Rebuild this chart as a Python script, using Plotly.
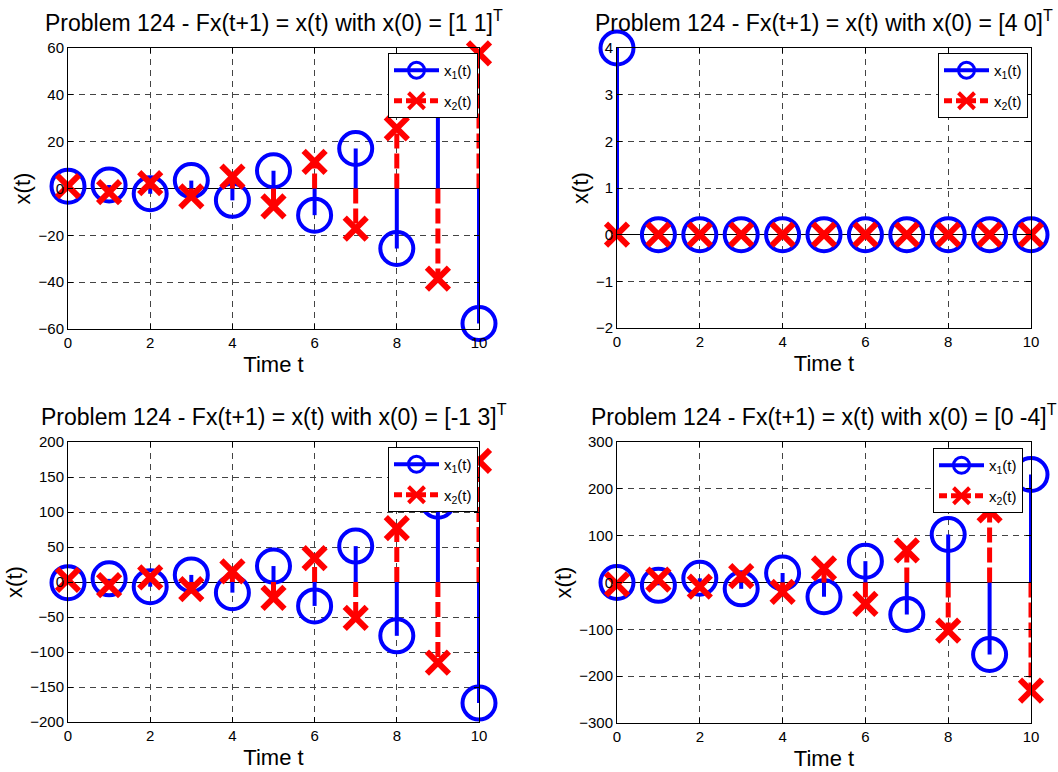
import plotly.graph_objects as go

W, H = 1058, 772

# ---------------- data ----------------
t = [0, 1, 2, 3, 4, 5, 6, 7, 8, 9, 10]

titles = ["[1 1]", "[4 0]", "[-1 3]", "[0 -4]"]

a_x1 = [1, 1.5, -2.25, 3.38, -5.06, 7.59, -11.39, 17.09, -25.63, 38.44, -57.67]
a_x2 = [1, -1.5, 2.25, -3.38, 5.06, -7.59, 11.39, -17.09, 25.63, -38.44, 57.67]

b_x1 = [4, 0, 0, 0, 0, 0, 0, 0, 0, 0, 0]
b_x2 = [0, 0, 0, 0, 0, 0, 0, 0, 0, 0, 0]

c_x1 = [-1, 4.5, -6.75, 10.13, -15.19, 22.78, -34.17, 51.26, -76.89, 115.33, -173.0]
c_x2 = [3, -4.5, 6.75, -10.13, 15.19, -22.78, 34.17, -51.26, 76.89, -115.33, 173.0]

d_x1 = [0, -6, 9, -13.5, 20.25, -30.38, 45.56, -68.34, 102.52, -153.77, 230.66]
d_x2 = [-4, 6, -9, 13.5, -20.25, 30.38, -45.56, 68.34, -102.52, 153.77, -230.66]

series = [(a_x1, a_x2), (b_x1, b_x2), (c_x1, c_x2), (d_x1, d_x2)]
y_ranges = [(-60, 60, 20), (-2, 4, 1), (-200, 200, 50), (-300, 300, 100)]

# ---------------- layout geometry (pixels) ----------------
boxes = [  # left, right, top, bottom
    (68, 479, 48, 329),
    (617, 1031, 48, 328),
    (68, 479, 442, 722),
    (617, 1031, 442, 723),
]
legend_pos = [(478, 53), (1028, 53), (478, 447), (1023, 448)]

FONT = "Liberation Sans, Arial, Helvetica, sans-serif"
BLUE = "#0000FF"
RED = "#FF0000"

fig = go.Figure()


def stem_xy(xs, ys):
    sx, sy = [], []
    for xv, yv in zip(xs, ys):
        sx += [xv, xv, None]
        sy += [0, yv, None]
    return sx, sy


layout = dict(
    width=W, height=H,
    margin=dict(l=0, r=0, t=0, b=0, autoexpand=False),
    paper_bgcolor="white", plot_bgcolor="white",
    font=dict(family=FONT, color="black", size=15),
    showlegend=True,
    annotations=[],
)

for i, ((x1, x2), (ymin, ymax, dy), box, lp) in enumerate(zip(series, y_ranges, boxes, legend_pos)):
    n = i + 1
    xa = "x" if n == 1 else f"x{n}"
    ya = "y" if n == 1 else f"y{n}"
    lg = "legend" if n == 1 else f"legend{n}"

    # stems x1
    sx, sy = stem_xy(t, x1)
    fig.add_trace(go.Scatter(x=sx, y=sy, mode="lines", xaxis=xa, yaxis=ya,
                             line=dict(color=BLUE, width=4), showlegend=False,
                             cliponaxis=False, hoverinfo="skip"))
    fig.add_trace(go.Scatter(x=t, y=x1, mode="markers", xaxis=xa, yaxis=ya,
                             marker=dict(symbol="circle-open", size=33, color=BLUE,
                                         line=dict(color=BLUE, width=4)),
                             showlegend=False, cliponaxis=False))
    # stems x2
    sx, sy = stem_xy(t, x2)
    fig.add_trace(go.Scatter(x=sx, y=sy, mode="lines", xaxis=xa, yaxis=ya,
                             line=dict(color=RED, width=5, dash="15px,5px"), showlegend=False,
                             cliponaxis=False, hoverinfo="skip"))
    fig.add_trace(go.Scatter(x=t, y=x2, mode="markers", xaxis=xa, yaxis=ya,
                             marker=dict(symbol="x-thin-open", size=22, color=RED,
                                         line=dict(color=RED, width=6)),
                             showlegend=False, cliponaxis=False))
    # legend entries
    fig.add_trace(go.Scatter(x=[None], y=[None], mode="lines+markers", xaxis=xa, yaxis=ya,
                             name="x<sub>1</sub>(t)", legend=lg, legendgroup=f"g{n}a",
                             line=dict(color=BLUE, width=4),
                             marker=dict(symbol="circle-open", size=16, color=BLUE,
                                         line=dict(color=BLUE, width=3))))
    fig.add_trace(go.Scatter(x=[None], y=[None], mode="lines+markers", xaxis=xa, yaxis=ya,
                             name="x<sub>2</sub>(t)", legend=lg, legendgroup=f"g{n}b",
                             line=dict(color=RED, width=5, dash="8px,4px"),
                             marker=dict(symbol="x-thin-open", size=16, color=RED,
                                         line=dict(color=RED, width=4))))

    l, r, tp, bt = box
    xkey = "xaxis" if n == 1 else f"xaxis{n}"
    ykey = "yaxis" if n == 1 else f"yaxis{n}"
    layout[xkey] = dict(
        domain=[l / W, r / W], anchor=ya, range=[0, 10], dtick=2, tick0=0,
        ticks="inside", ticklen=5, tickcolor="black", showline=True, linecolor="black",
        linewidth=1, mirror="ticks", showgrid=True, gridcolor="#444444", griddash="6px,5px",
        gridwidth=1, zeroline=False, tickfont=dict(size=15, family=FONT),
        title=dict(text="Time t", font=dict(size=22, family=FONT), standoff=6),
        automargin=False, fixedrange=True,
    )
    layout[ykey] = dict(
        domain=[1 - bt / H, 1 - tp / H], anchor=xa, range=[ymin, ymax], dtick=dy, tick0=0,
        ticks="inside", ticklen=5, tickcolor="black", showline=True, linecolor="black",
        linewidth=1, mirror="ticks", showgrid=True, gridcolor="#444444", griddash="6px,5px",
        gridwidth=1, zeroline=True, zerolinecolor="black", zerolinewidth=1,
        tickfont=dict(size=15, family=FONT),
        title=dict(text="x(t)", font=dict(size=22, family=FONT), standoff=1),
        automargin=False, fixedrange=True,
    )
    layout[lg] = dict(
        x=lp[0] / W, y=1 - lp[1] / H, xanchor="right", yanchor="top",
        bgcolor="white", bordercolor="black", borderwidth=1,
        font=dict(size=15, family=FONT), itemwidth=45, tracegroupgap=8,
    )
    layout["annotations"].append(dict(
        text=f"Problem 124 - Fx(t+1) = x(t) with x(0) = {titles[i]}<sup>T</sup>",
        xref="paper", yref="paper", x=(l + r) / 2 / W, y=1 - (tp - 10) / H,
        xanchor="center", yanchor="bottom", showarrow=False,
        font=dict(size=23, family=FONT, color="black"),
    ))

fig.update_layout(**layout)
fig.write_html("out.html", config={"displayModeBar": False},
               post_script="document.body.style.margin='0';document.body.style.overflow='hidden';")
